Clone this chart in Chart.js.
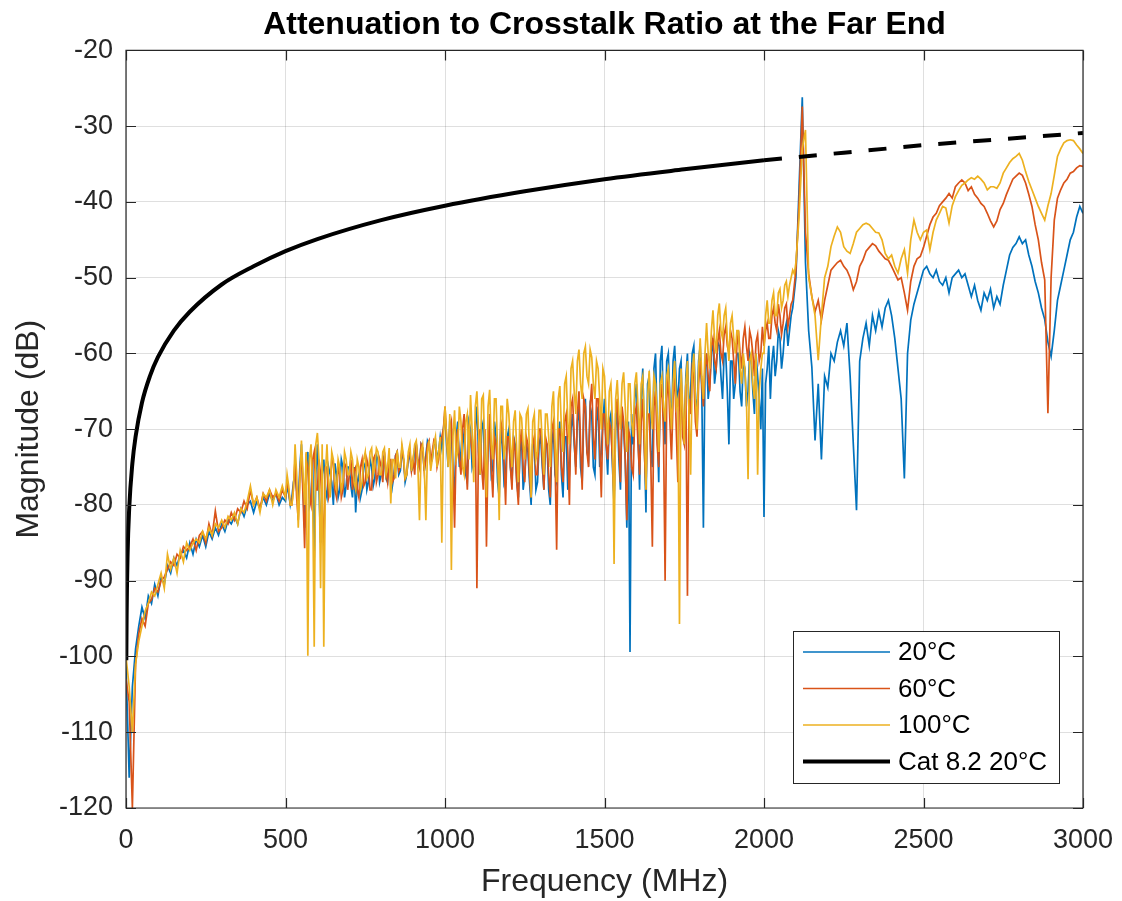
<!DOCTYPE html>
<html>
<head>
<meta charset="utf-8">
<title>Attenuation to Crosstalk Ratio at the Far End</title>
<script src="https://cdn.jsdelivr.net/npm/chart.js@4.4.0/dist/chart.umd.min.js"></script>
<style>
  html, body { margin: 0; padding: 0; background: #fff; }
  #wrap { width: 1122px; height: 901px; }
</style>
</head>
<body>
<div id="wrap"><canvas id="acrf" width="1122" height="901"></canvas></div>
<script>
// frequency grid of the measured traces (MHz): 10 MHz steps, 5 MHz in the noisy middle part
const freqMHz = [
  ...Array.from({ length: 50 }, (_, i) => i * 10),
  ...Array.from({ length: 320 }, (_, i) => 500 + i * 5),
  ...Array.from({ length: 91 }, (_, i) => 2100 + i * 10),
];

const acrf20C = [
  -101, -116, -104, -99, -96, -93.5, -95, -92, -93, -90.5,
  -92, -89.5, -90.5, -88, -89, -87, -88, -86.5, -86, -87,
  -85, -86.5, -84.5, -85.5, -84, -85.5, -83.5, -84.5, -83, -84,
  -82.5, -83.5, -82, -82.5, -81.5, -82.5, -80.5, -81.5, -80, -79.5,
  -81, -79.5, -80.5, -79, -80, -78.5, -79.5, -78.5, -80, -79,
  // 500 - 2095 MHz, 5 MHz steps
  -79.5, -77.5, -78.5, -80, -79, -77, -76, -78, -80, -75, -72, -78, -83, -76, -73, -80, -79, -74, -87, -76,
  -72, -78, -85, -76, -74, -78, -79, -75, -76, -77, -80, -74.5, -76, -79, -78, -74, -75, -79, -77.5, -75,
  -75, -77.5, -79, -75, -81, -77, -76, -79, -78, -75, -74.5, -78, -77, -74, -75, -77.5, -76.5, -73.5, -74, -77,
  -76, -74, -73.5, -76.5, -77, -74, -75, -77.5, -76, -73.5, -73, -76, -75.5, -73, -74, -77, -76, -74, -73.5, -75.5,
  -75, -72.5, -72, -75, -74.5, -72, -72.5, -75.5, -73.5, -71.5, -72, -74.5, -74, -72, -71.5, -74, -73, -71, -72.5, -70,
  -68, -72, -75, -69, -70, -76, -78, -71, -69, -75, -73, -70, -72, -76, -77, -69, -70, -75, -74, -70,
  -67, -73, -76, -70, -69, -75, -78, -71, -70, -76, -75, -69, -71, -77, -79, -70, -72, -77, -76, -71,
  -70, -75, -77, -71, -72, -77, -79, -73, -71, -78, -76, -72, -73, -77, -80, -72, -72, -78, -77, -72,
  -71, -75, -78, -72, -72, -78, -80, -72, -70, -76, -77, -71, -69, -76, -79, -71, -71, -78, -76, -70,
  -68, -72, -75, -69, -67, -75, -77, -68, -66, -73, -74, -67, -68, -75, -76, -69, -67, -75, -73, -69,
  -66, -72, -76, -69, -68, -75, -80, -70, -67, -74, -78, -68, -70, -74, -83, -69, -99.4, -68, -72, -66,
  -64, -70, -78, -66, -62, -72, -81, -64, -63, -73, -75, -62, -60, -69, -77, -61, -59, -68, -72, -61,
  -60, -66, -70, -61, -59, -64, -67, -62, -61, -69, -72, -63, -60, -68, -65, -60, -59, -66, -68, -61,
  -59, -65, -83, -62, -60, -66, -64, -60, -58, -64, -62, -58.5, -59, -63, -66, -60, -60, -65, -72, -61,
  -61, -66, -64, -60, -60, -65, -67, -61, -62, -67, -65, -60, -61, -65, -68, -60, -63, -66, -70, -62,
  -81.6, -64, -62, -59, -66, -61, -59, -63, -61, -57, -58, -62, -60, -57, -56, -59, -57, -55, -54, -52,
  // 2100 - 3000 MHz
  -50, -38, -26.2, -48, -57, -61.8, -71.5, -64, -74, -63,
  -64.5, -60, -61, -58.5, -57, -59, -56, -63, -72, -80.7,
  -61, -58, -56, -59, -55, -57, -54.5, -56.5, -54, -53,
  -55, -58, -62, -66, -76.5, -60, -55.6, -53.5, -52, -50.5,
  -49, -48.5, -49.5, -50, -49, -50.5, -51, -50, -52, -50,
  -49.5, -49, -50, -49.5, -51, -52.5, -51, -53, -54.3, -52,
  -53, -51.5, -54, -52.5, -53.5, -51, -49, -47, -46, -45.5,
  -44.6, -45.5, -45, -47, -48.5, -50.5, -52, -54, -55.5, -58.5,
  -60.4, -57, -53, -51, -49, -47, -45, -44, -42, -40.6,
  -41.5
];
const acrf60C = [
  -103, -106, -120, -101, -97, -95, -96, -93, -92.5, -91,
  -91.5, -90, -89.5, -88.5, -87.5, -88, -86.5, -87, -85.5, -86,
  -85.5, -84.5, -86, -84, -83.5, -85, -82.5, -84, -80.8, -83.5,
  -83, -82, -82.5, -81, -82, -80.5, -81, -79.5, -80.5, -78,
  -80, -79, -80.5, -78.5, -79.5, -78, -79, -78.5, -79.5, -78,
  // 500 - 2095 MHz, 5 MHz steps
  -79, -77, -78, -80, -80, -77.5, -74, -79, -82, -76, -73, -79, -85.7, -74, -75, -79, -80, -74, -73, -78,
  -78, -74, -76, -80, -86, -75, -75, -79, -78, -74, -74.5, -78, -79, -75, -76, -79, -78, -74.5, -75, -78,
  -76, -74, -78, -75.5, -75, -78, -79, -75, -74, -77.5, -77, -74, -75, -78, -78, -74, -73.5, -77, -76, -74,
  -75, -77, -73, -75.5, -77, -74, -74, -77, -76.5, -73.5, -73, -75.5, -75, -72.5, -74, -76.5, -76, -73.5, -73, -75.5,
  -74, -76, -72, -74, -75, -72, -72.5, -75.5, -74, -72, -71.5, -74.5, -73, -71.5, -72, -75, -74, -72, -71, -70,
  -67, -71, -74, -70, -69, -75, -83, -72, -70, -74, -76, -70, -68, -74, -78, -70, -71, -73, -75, -69,
  -91, -72, -70, -75, -78, -70, -85.5, -73, -68, -75, -79, -71, -72, -75, -77, -69, -70, -74, -80, -71,
  -71, -75, -78, -71, -73, -77, -80, -72, -70, -75, -77, -71, -72, -76, -79, -72, -71, -76, -76, -70,
  -70, -74, -78, -71, -72, -76, -79, -70, -69, -74, -85.9, -70, -70, -75, -77, -69, -68, -73, -80, -67,
  -66, -71, -76, -68, -65, -72, -78, -66, -67, -73, -75, -67, -64, -71, -74, -66, -66, -72, -79, -68,
  -68, -72, -74, -69, -70, -74, -79, -68, -66, -72, -77, -67, -69, -74, -82, -70, -71, -75, -76, -68,
  -67, -72, -76, -69, -66, -73, -78, -68, -68, -74, -85.5, -67, -65, -72, -75, -66, -64, -71, -90, -66,
  -63, -69, -74, -66, -62, -70, -77, -65, -64, -71, -72, -64, -92, -66, -68, -62, -63, -69, -71, -64,
  -61, -64, -67, -62, -60, -63, -65, -59, -58, -61, -62, -58.5, -57, -60, -61, -57.5, -56.5, -59, -60, -57,
  -58, -61, -64, -59, -57, -60, -62, -58, -56.5, -59, -61, -57, -58, -60, -63, -58.5, -57.5, -61, -60, -56.5,
  -59, -57, -56, -58, -58, -55, -54, -56, -57, -53.5, -55, -57.5, -56, -54, -53.5, -56.5, -55, -53.5, -53, -51,
  // 2100 - 3000 MHz
  -49, -40, -27.4, -44, -49.5, -52.5, -54.5, -53, -55.6, -53,
  -51, -49, -48.5, -48, -47.7, -48.5, -49, -50, -51.6, -50.5,
  -48.5, -47.7, -46.5, -46, -45.5, -45.8, -46.5, -47, -47.5, -47.7,
  -48.5, -49.4, -50.3, -50, -52, -54.3, -50.5, -48.5, -47.5, -47.2,
  -46, -44.5, -43, -42, -41.5, -40.5, -40, -39.5, -38.9, -39.5,
  -38, -37.5, -37.1, -37.5, -38.5, -38, -39, -39.5, -40.2, -40.6,
  -41.5, -42.5, -43.3, -42.5, -41, -40.2, -39, -38, -37, -36.6,
  -36.2, -36.5, -37.5, -39, -40.6, -43, -45, -48, -50.3, -67.9,
  -50, -42.4, -39.5, -38.4, -37.5, -37, -36.2, -36, -35.5, -35.2,
  -35.3
];
const acrf100C = [
  -100, -104, -110, -101, -98, -96, -94, -93, -91.5, -92,
  -90.5, -89, -91, -86.5, -88.5, -87, -89, -86, -87.5, -85,
  -86, -85, -84.5, -85, -83.5, -84.5, -83, -84, -82.5, -83,
  -82, -83, -81.5, -82, -81, -82.5, -80.5, -81, -79.5, -77.5,
  -80, -79, -81, -78.5, -79, -78, -80, -78, -79, -77.5,
  // 500 - 2095 MHz, 5 MHz steps
  -79, -76, -77.5, -80, -80, -78, -72, -76, -83, -77, -71.5, -76, -80, -73, -99.9, -74, -72, -78, -98.7, -72,
  -70.5, -74, -91, -72, -98.7, -76, -72, -77, -79, -73, -74, -77, -78, -74, -75, -78, -77, -73, -74, -76,
  -76, -73, -74, -77, -78, -74, -75, -78, -77, -74, -73, -76.5, -76, -73, -72.5, -76, -75, -72.5, -73, -76,
  -76, -73, -72.5, -76, -75, -72.5, -79.8, -74, -74, -76.5, -72.8, -75, -75, -72, -73.5, -76.5, -76, -73, -72, -75.5,
  -74, -72, -71.5, -75, -82, -73, -72, -75, -82, -73, -71.5, -75.5, -74, -72, -71, -75, -73, -71, -85, -71,
  -67, -71, -75, -68, -88.6, -71, -67.5, -74, -73, -67, -69, -75, -76, -69, -68, -74, -65.5, -70, -77, -67,
  -65, -70, -76, -66, -65.5, -73, -79, -67, -64.8, -72, -74, -66, -66, -73, -82, -67, -67, -74, -72, -66,
  -68, -72, -75, -69, -67.5, -73, -77, -68, -68.5, -72, -74, -68, -67.3, -73, -79, -69, -68, -74, -73, -67.5,
  -67.5, -72, -76, -68, -68, -71, -75, -67, -65, -72, -77, -66, -64.3, -70, -73, -64, -63, -69, -72, -62,
  -61, -65, -68, -61, -59.5, -64, -66, -60, -59.1, -63, -64, -59.5, -60.5, -64, -66, -61, -62, -66, -70, -62,
  -63, -68, -72, -65, -64, -69, -87.8, -66, -63.5, -68, -70, -64, -62.5, -67, -73, -64, -64, -69, -71, -64,
  -62.5, -67, -72, -64, -63, -69, -78, -66, -62.3, -67, -70, -63, -64, -68, -73, -64, -63, -67, -69, -63,
  -62, -66, -70, -64, -61, -67, -66, -95.7, -62, -67, -72, -64, -61, -68, -76, -63, -60, -66, -70, -62,
  -58, -63, -66, -60, -56, -60, -62, -57, -54.3, -58, -60, -55, -53.4, -57, -58, -55, -54, -58, -61, -56,
  -55, -58, -60, -57, -57, -62, -64, -60, -62, -66, -76.6, -61, -60, -64, -66, -60, -76, -65, -62, -60,
  -60, -55, -53, -56, -56, -53, -52, -55, -55, -52, -51.5, -54, -53, -51, -50.5, -52.5, -51, -50, -49, -49.5,
  // 2100 - 3000 MHz
  -48, -42, -33, -30.5, -50, -52.5, -55, -60.9, -55, -50,
  -48.5, -45.9, -44.5, -43.3, -44, -45.9, -46.5, -46.8, -45.5, -44,
  -43.5, -43, -42.8, -43, -43.5, -44, -44.1, -45, -46.8, -47.5,
  -47, -48.5, -49.4, -47.5, -46.3, -49.4, -45, -42.4, -44, -45,
  -44, -43.7, -46.3, -44, -42.4, -41.5, -40.6, -40.8, -42.8, -40.5,
  -39.3, -38.5, -37.8, -37.5, -37.1, -36.8, -37, -36.6, -37, -37.5,
  -38.4, -38, -38, -38.2, -37.5, -36.2, -35.5, -34.8, -34.3, -34,
  -33.6, -34.5, -36, -37.3, -38.4, -39.5, -40.6, -41.5, -42.4, -40.5,
  -38.9, -36.5, -34, -33, -32.2, -31.9, -31.8, -31.9, -32.5, -33,
  -33.6
];

// Cat 8.2 limit line (solid part up to 2000 MHz, dashed extension above)
const cat82Freq = [1, 2, 5, 10, 20, 30, 50, 75, 100, 150, 200, 300, 400, 500, 600, 800, 1000, 1250, 1500, 1750, 2000];
const cat82Limit = [-100.5, -94.5, -86.5, -80.5, -74.5, -71.0, -66.5, -63.0, -60.5, -57.0, -54.5, -50.9, -48.5, -46.5, -44.9, -42.4, -40.5, -38.6, -37.0, -35.7, -34.5];
const cat82ExtFreq = [2000, 2250, 2500, 2750, 3000];
const cat82ExtLimit = [-34.5, -33.5, -32.5, -31.7, -30.9];

const xTickValues = [0, 500, 1000, 1500, 2000, 2500, 3000];
const yTickValues = [-120, -110, -100, -90, -80, -70, -60, -50, -40, -30, -20];

const seriesLabels = ["20°C", "60°C", "100°C", "Cat 8.2 20°C"];
const seriesColors = ["#0072BD", "#D95319", "#EDB120", "#000000"];

[acrf20C, acrf60C, acrf100C].forEach((s, i) => {
  if (s.length !== freqMHz.length) console.error("series " + i + " has " + s.length + " values, expected " + freqMHz.length);
});

const toPoints = (xs, ys) => xs.map((x, i) => ({ x: x, y: ys[i] }));

const FONT = "'Liberation Sans', Arial, Helvetica, sans-serif";
const AXIS_COLOR = "#262626";
Chart.defaults.font.family = FONT;
Chart.defaults.color = AXIS_COLOR;

// box around the axes with inward tick marks, like MATLAB
const axesBox = {
  id: "axesBox",
  afterDatasetsDraw(chart) {
    const { ctx, chartArea: a, scales } = chart;
    const len = 10;
    ctx.save();
    ctx.strokeStyle = AXIS_COLOR;
    ctx.lineWidth = 1.2;
    ctx.beginPath();
    ctx.rect(a.left, a.top, a.right - a.left, a.bottom - a.top);
    xTickValues.forEach((v) => {
      const px = Math.round(scales.x.getPixelForValue(v)) + 0.5;
      ctx.moveTo(px, a.bottom); ctx.lineTo(px, a.bottom - len);
      ctx.moveTo(px, a.top); ctx.lineTo(px, a.top + len);
    });
    yTickValues.forEach((v) => {
      const py = Math.round(scales.y.getPixelForValue(v)) + 0.5;
      ctx.moveTo(a.left, py); ctx.lineTo(a.left + len, py);
      ctx.moveTo(a.right, py); ctx.lineTo(a.right - len, py);
    });
    ctx.stroke();
    ctx.restore();
  },
};

// legend box in the lower right corner of the axes
const boxLegend = {
  id: "boxLegend",
  afterDraw(chart) {
    const { ctx, chartArea: a } = chart;
    const w = 266, h = 152;
    const x0 = a.right - 24 - w, y0 = a.bottom - 25 - h;
    ctx.save();
    ctx.fillStyle = "#fff";
    ctx.fillRect(x0, y0, w, h);
    ctx.strokeStyle = AXIS_COLOR;
    ctx.lineWidth = 1;
    ctx.strokeRect(x0 + 0.5, y0 + 0.5, w, h);
    ctx.font = "26px " + FONT;
    ctx.textBaseline = "middle";
    seriesLabels.forEach((label, i) => {
      const y = y0 + 21 + i * 36.5;
      ctx.beginPath();
      ctx.strokeStyle = seriesColors[i];
      ctx.lineWidth = i === 3 ? 4 : 1.5;
      ctx.moveTo(x0 + 10, y);
      ctx.lineTo(x0 + 97, y);
      ctx.stroke();
      ctx.fillStyle = "#000";
      ctx.fillText(label, x0 + 105, y + 1);
    });
    ctx.restore();
  },
};

const thin = (label, ys, color, order) => ({
  label: label,
  data: toPoints(freqMHz, ys),
  borderColor: color,
  borderWidth: 1.7,
  pointRadius: 0,
  tension: 0,
  order: order,
});

new Chart(document.getElementById("acrf"), {
  type: "line",
  data: {
    datasets: [
      thin(seriesLabels[0], acrf20C, seriesColors[0], 4),
      thin(seriesLabels[1], acrf60C, seriesColors[1], 3),
      thin(seriesLabels[2], acrf100C, seriesColors[2], 2),
      {
        label: seriesLabels[3],
        data: toPoints(cat82Freq, cat82Limit),
        borderColor: "#000",
        borderWidth: 4,
        pointRadius: 0,
        cubicInterpolationMode: "monotone",
        order: 1,
      },
      {
        label: "Cat 8.2 extension",
        data: toPoints(cat82ExtFreq, cat82ExtLimit),
        borderColor: "#000",
        borderWidth: 4,
        borderDash: [18, 17],
        pointRadius: 0,
        tension: 0,
        order: 0,
      },
    ],
  },
  options: {
    responsive: false,
    animation: false,
    layout: { padding: { left: 0, right: 39, top: 0, bottom: 0 } },
    plugins: {
      legend: { display: false },
      tooltip: { enabled: false },
      title: {
        display: true,
        fullSize: false,
        text: "Attenuation to Crosstalk Ratio at the Far End",
        color: "#000",
        font: { size: 32, weight: "bold" },
        padding: { top: 6, bottom: 6 },
      },
    },
    scales: {
      x: {
        type: "linear",
        min: 0,
        max: 3000,
        afterBuildTicks: (scale) => { scale.ticks = xTickValues.map((v) => ({ value: v })); },
        afterFit: (scale) => { scale.height = 93; scale.paddingLeft = 0; scale.paddingRight = 0; },
        ticks: {
          font: { size: 27 },
          padding: 16,
          maxRotation: 0,
          callback: (v) => String(v),
        },
        grid: { color: "rgba(38,38,38,0.15)", drawTicks: false },
        border: { display: false },
        title: {
          display: true,
          text: "Frequency (MHz)",
          font: { size: 32 },
          padding: { top: 0, bottom: 0 },
        },
      },
      y: {
        type: "linear",
        min: -120,
        max: -20,
        afterBuildTicks: (scale) => { scale.ticks = yTickValues.map((v) => ({ value: v })); },
        afterFit: (scale) => { scale.width = 126; scale.paddingTop = 0; scale.paddingBottom = 0; },
        ticks: {
          font: { size: 27 },
          padding: 13,
          callback: (v) => String(v),
        },
        grid: { color: "rgba(38,38,38,0.15)", drawTicks: false },
        border: { display: false },
        title: {
          display: true,
          text: "Magnitude (dB)",
          font: { size: 32 },
          padding: { top: 10, bottom: 0 },
        },
      },
    },
  },
  plugins: [axesBox, boxLegend],
});
</script>
</body>
</html>
